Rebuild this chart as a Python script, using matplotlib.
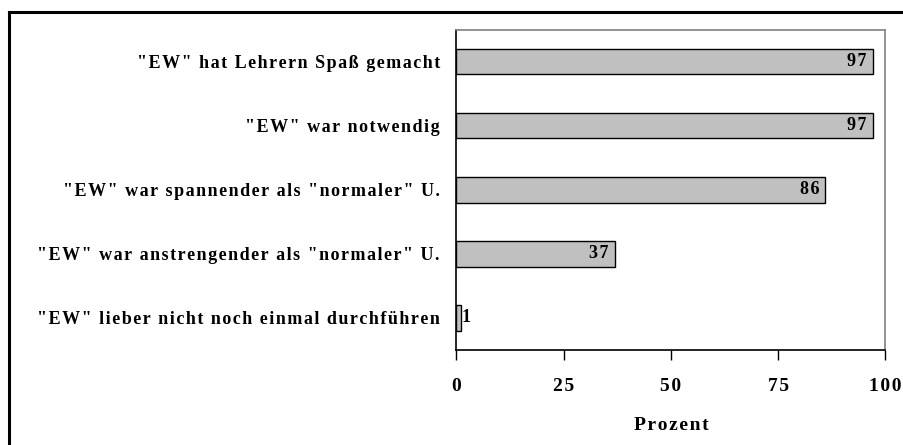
import matplotlib
matplotlib.use("Agg")
import matplotlib.pyplot as plt
from matplotlib.lines import Line2D

# Survey statements and share of agreement (percent)
statements = [
    '"EW" hat Lehrern Spaß gemacht',
    '"EW" war notwendig',
    '"EW" war spannender als "normaler" U.',
    '"EW" war anstrengender als "normaler" U.',
    '"EW" lieber nicht noch einmal durchführen',
]
percent = [97, 97, 86, 37, 1]
x_ticks = [0, 25, 50, 75, 100]
x_label = "Prozent"

W, H, DPI = 904, 445, 100
fig = plt.figure(figsize=(W / DPI, H / DPI), dpi=DPI)
fig.patch.set_facecolor("white")

serif = ["Liberation Serif", "DejaVu Serif"]
HAIR = "\u200a"


def spaced(s):
    """Slightly letter-spaced text using hair spaces between characters."""
    return HAIR.join(s)


# Axes placement in pixel coordinates
ax_l, ax_r, ax_t, ax_b = 456.5, 885.5, 29.5, 350.0
ax = fig.add_axes([ax_l / W, 1 - ax_b / H, (ax_r - ax_l) / W, (ax_b - ax_t) / H])

ypos = list(range(len(statements)))
ax.barh(ypos, percent, height=0.4, color="#C0C0C0", edgecolor="black",
        linewidth=1.0, zorder=2)

ax.set_xlim(0, 100)
ax.set_ylim(len(statements) - 0.5, -0.5)

ax.set_yticks(ypos)
ax.set_yticklabels([spaced(s) for s in statements], fontfamily=serif,
                   fontweight="bold", fontsize=13)
ax.tick_params(axis="y", length=0, pad=12)

ax.set_xticks(x_ticks)
ax.set_xticklabels([spaced(str(t)) for t in x_ticks], fontfamily=serif,
                   fontweight="bold", fontsize=14)
ax.tick_params(axis="x", direction="out", length=7, width=1.0, pad=13,
               color="black")

ax.set_xlabel(spaced(x_label), fontfamily=serif, fontweight="bold", fontsize=14,
              labelpad=16)

for side in ("top", "right"):
    ax.spines[side].set_color("#808080")
    ax.spines[side].set_linewidth(1.2)
for side in ("left", "bottom"):
    ax.spines[side].set_color("black")
    ax.spines[side].set_linewidth(1.2)

# Value labels: inside the bar end, or just beyond a very short bar
for y, v in zip(ypos, percent):
    if v >= 10:
        ax.annotate(spaced(str(v)), xy=(v, y), xytext=(-4.5, 0),
                    textcoords="offset points", ha="right", va="center",
                    fontfamily=serif, fontweight="bold", fontsize=13, zorder=3)
    else:
        ax.annotate(str(v), xy=(v, y), xytext=(0.5, 0), textcoords="offset points",
                    ha="left", va="center", fontfamily=serif,
                    fontweight="bold", fontsize=13, zorder=3)

# Frame around the chart area (top and left edges visible)
bx, by = 8.5, 12.0
fig.add_artist(Line2D([bx / W, 1.01], [1 - by / H, 1 - by / H],
                      transform=fig.transFigure, color="black", linewidth=2.2))
fig.add_artist(Line2D([bx / W, bx / W], [1 - by / H, -0.01],
                      transform=fig.transFigure, color="black", linewidth=2.2))

fig.savefig("out.png", dpi=DPI)
